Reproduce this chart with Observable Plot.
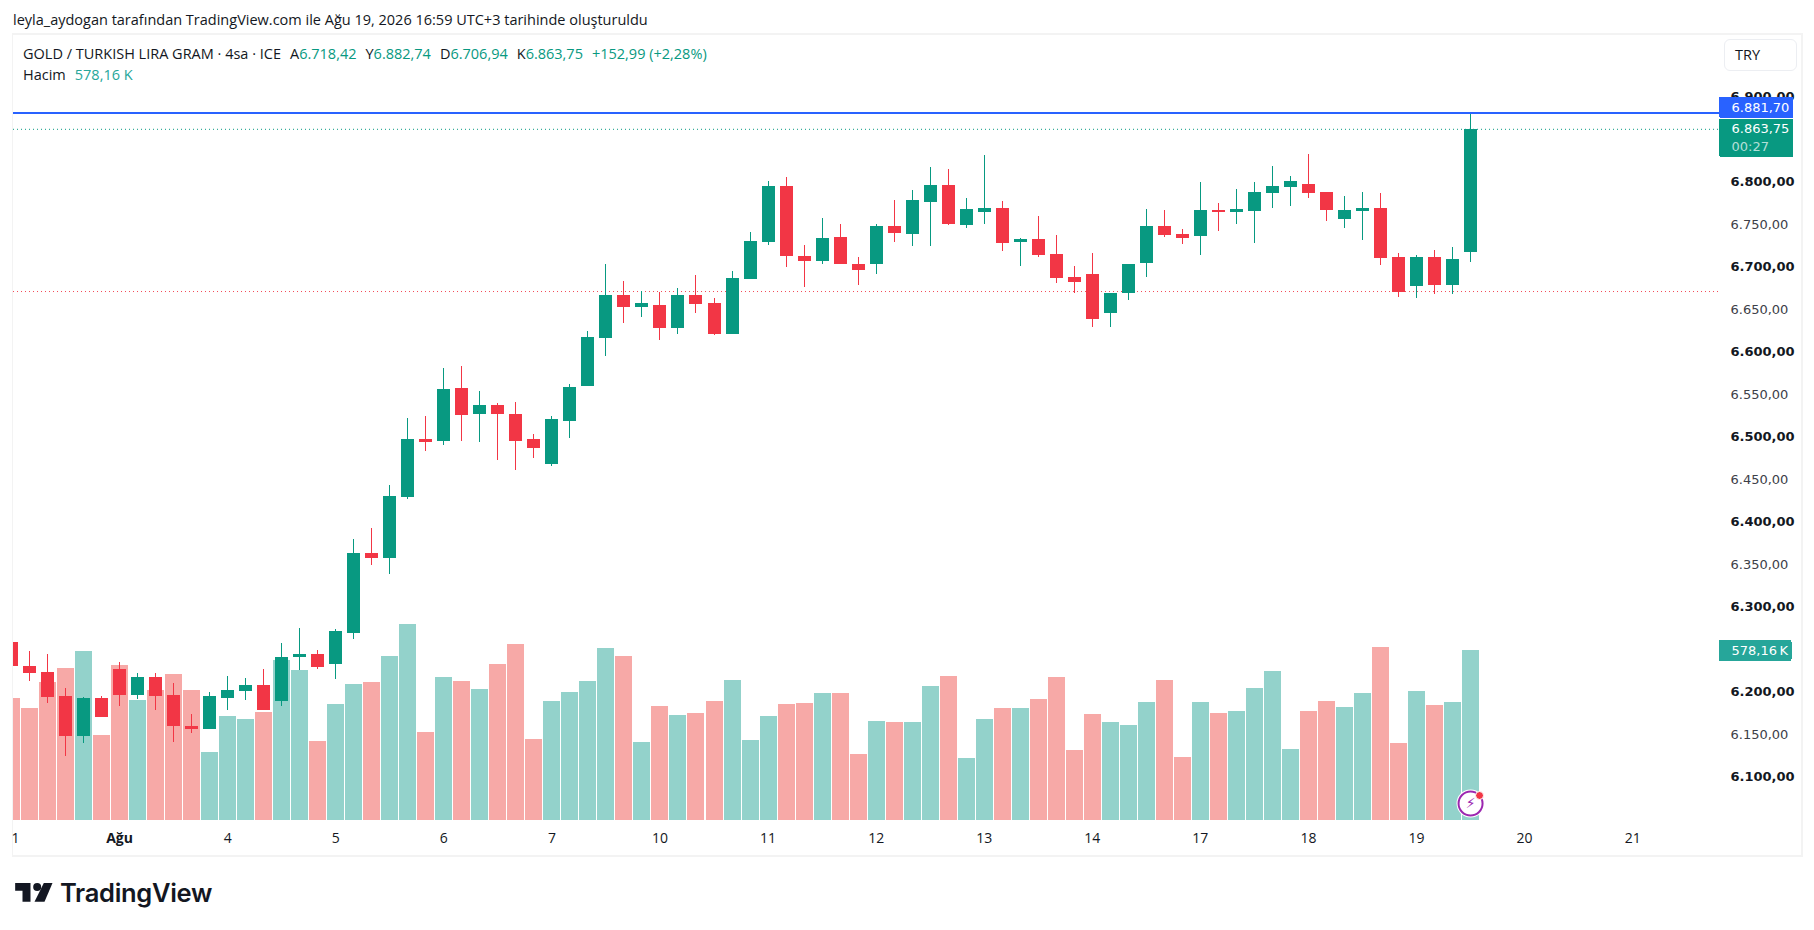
<!DOCTYPE html>
<html lang="tr">
<head>
<meta charset="utf-8">
<title>GOLD / TURKISH LIRA GRAM</title>
<script src="https://cdn.jsdelivr.net/npm/d3@7"></script>
<script src="https://cdn.jsdelivr.net/npm/@observablehq/plot@0.6"></script>
<style>
  html,body{margin:0;padding:0;background:#fff;width:1814px;height:930px;overflow:hidden}
  body{position:relative;font-family:"Open Sans",Roboto,sans-serif;color:#131722}
  #credit{position:absolute;left:13px;top:11px;font-size:14.5px;line-height:18px;white-space:nowrap;color:#131722}
  #panel{position:absolute;left:12px;top:33px;width:1788px;height:820px;border:2px solid #f3f3f3;border-left-width:1px}
  #chart{position:absolute;left:0;top:35px}
  #chart svg{display:block;background:transparent}
  .legend{position:absolute;left:23px;font-size:14.5px;line-height:18px;white-space:nowrap;color:#131722}
  .legend b{font-weight:400;color:#089981}
  .legend span{margin-left:9px}
  #try{position:absolute;left:1724px;top:39px;width:71px;height:30px;border:1px solid #eceef2;border-radius:6px;font-size:14.5px;line-height:30px;text-indent:10px;background:#fff}
  #brand{position:absolute;left:15px;top:874px;height:36px;display:flex;align-items:center}
  #brand svg{display:block;margin-right:7px}
  #brand span{font-family:Inter,sans-serif;font-weight:600;font-size:25.5px;letter-spacing:-.3px;color:#131722}
</style>
</head>
<body>
<div id="credit">leyla_aydogan tarafından TradingView.com ile Ağu 19, 2026 16:59 UTC+3 tarihinde oluşturuldu</div>
<div id="panel"></div>
<div id="chart"></div>
<div class="legend" style="top:45px">GOLD / TURKISH LIRA GRAM · 4sa · ICE<span>A<b>6.718,42</b></span><span>Y<b>6.882,74</b></span><span>D<b>6.706,94</b></span><span>K<b>6.863,75</b></span><span><b>+152,99 (+2,28%)</b></span></div>
<div class="legend" style="top:66px">Hacim<span><b style="color:#26a69a">578,16 K</b></span></div>
<div id="try">TRY</div>
<div id="brand">
  <svg width="38" height="19" viewBox="46 787 113 57" aria-hidden="true"><path fill="#131722" d="M46 787H92V843H68V810H46Z"/><circle fill="#131722" cx="112" cy="799" r="12"/><path fill="#131722" d="M132 787H158L134 843H104Z"/></svg>
  <span>TradingView</span>
</div>
<script>
const open = [6260,6231.8,6224.7,6196.5,6149.4,6194.1,6228.2,6197.6,6218.8,6197.6,6161.2,6157.6,6194.1,6202.4,6209.4,6190.6,6242.3,6245.9,6234.1,6270.6,6364.7,6358.8,6430.6,6498.8,6496.5,6558.8,6528.2,6538.8,6528.2,6498.8,6469.4,6520,6561.2,6617.6,6668.2,6654.1,6656.5,6629.4,6668.2,6658.8,6622.4,6687,6730.6,6796.5,6714.1,6708.2,6736.5,6704.7,6704.7,6749.4,6740,6777.6,6797.6,6750.6,6765.9,6770.6,6730.6,6734.1,6716.5,6689.4,6692.9,6647,6670.6,6705.9,6749.4,6740,6737.6,6768.2,6765.9,6767,6788.2,6795.3,6798.8,6789.4,6757.6,6767,6770.6,6713,6678.8,6713,6680,6718.42];
const high = [6262,6249.4,6245.9,6205.9,6195.3,6196.5,6236.5,6223.5,6223.5,6211.8,6175.3,6201.2,6220,6217.6,6228.2,6258.8,6276.5,6250.6,6275.3,6381.2,6394.1,6444.7,6523.5,6525.9,6582.4,6584.7,6555.3,6541.2,6542.4,6504.7,6525.9,6563.5,6625.9,6704.7,6684.7,6672.9,6671.8,6676.5,6691.8,6664.7,6696.5,6742.4,6802.4,6807.1,6727,6758.8,6751.8,6713,6751.8,6780,6791.8,6818.8,6816.5,6782.4,6832.9,6778.8,6735.3,6761.2,6738.8,6702.4,6717.6,6670.6,6704.7,6769.4,6768.2,6745.9,6801.2,6776.5,6793,6801.2,6820,6808.2,6834.1,6789.4,6784.7,6789.4,6788.2,6717.6,6715.3,6721.2,6724.7,6882.74];
const low = [6229,6214.1,6188.2,6125.9,6141.2,6171.8,6184.7,6192.9,6180,6142.4,6152.9,6157.6,6180,6191.8,6180,6184.7,6227,6228.2,6216.5,6263.5,6350.6,6340,6428.2,6484.7,6491.8,6496.5,6495.3,6474.1,6462.4,6476.5,6467.1,6500,6561.2,6596.5,6635.3,6642.4,6615.3,6622.4,6647,6621.2,6622.4,6687,6727,6701.2,6677.6,6704.7,6704.7,6680,6692.9,6730.6,6725.9,6725.9,6750.6,6747,6751.8,6720,6702.4,6713,6682.4,6670.6,6630.6,6630.6,6662.4,6689.4,6736.5,6728.2,6715.3,6743.5,6751.8,6729.4,6770.6,6773,6782.4,6755.3,6747,6733,6703.5,6665.9,6664.7,6669.4,6669.4,6706.94];
const close = [6231.8,6223.5,6195.3,6149.4,6194.1,6171.8,6197.6,6218.8,6196.5,6161.2,6157.6,6196.5,6203.5,6209.4,6180,6242.3,6245.9,6230.6,6273,6364.7,6358.8,6431.8,6498.8,6495.3,6557.6,6527.1,6538.8,6528.2,6496.5,6488.2,6522.4,6560,6618.8,6668.2,6654.1,6658.8,6629.4,6668.2,6657.6,6622.4,6688.2,6731.8,6796.5,6714.1,6708.2,6735.3,6704.7,6697.6,6749.4,6741.2,6780,6797.6,6751.8,6769.4,6770.6,6729.4,6734.1,6715.3,6688.2,6683.5,6640,6670.6,6704.7,6749.4,6738.8,6735.3,6768.2,6765.9,6769.4,6789.4,6796.5,6802.4,6788.2,6768.2,6768.2,6770.6,6711.8,6671.8,6713,6680,6710.6,6863.75];
const volumeK = [415,381,469,517,575,289,527,408,442,497,442,231,354,344,367,544,510,269,395,463,469,558,667,299,486,473,446,531,599,275,405,435,473,585,558,265,388,357,364,405,476,272,354,395,398,432,432,224,337,333,333,456,490,211,344,381,381,412,486,238,361,333,323,401,476,214,401,364,371,449,507,241,371,405,384,432,588,262,439,391,401,578.16];

const boldPrices = [6100,6200,6300,6400,6500,6600,6700,6800,6900];
const plainPrices = [6150,6350,6450,6550,6650,6750];
const dayTickAt = [0.22,12,18,24,30,36,42,48,54,60,66,72,78,84,90];
const dayTickText = ["1","4","5","6","7","10","11","12","13","14","17","18","19","20","21"];
const monthTickAt = [6];
const monthTickText = ["Ağu"];

const bidLine = 6881.70, lastLine = 6863.75, lowLine = 6672.9;

const colours = {up:"#089981", down:"#f23645", upVol:"#93d2cb", downVol:"#f7a9a7", blue:"#2962ff", volTag:"#26a69a", bolt:"#9c27b0"};
const volBase = 6050.6, volUnit = 200 / 578.16;
const candles = open.map((o, i) => ({i, o, h: high[i], l: low[i], c: close[i], vTop: volBase + volumeK[i] * volUnit}));
const isUp = d => d.c >= d.o;

const priceFmt = d3.formatLocale({decimal:",", thousands:".", grouping:[3], currency:["",""]}).format(",.2f");
const dayLabel = new Map(dayTickAt.map((d, k) => [d, dayTickText[k]]));
const monthLabel = new Map(monthTickAt.map((d, k) => [d, monthTickText[k]]));

const tagL = 94.82, tagR = 98.95;
const tags = [
  {y1:6876.5, y2:6901.2, fill:colours.blue, r:tagR},
  {y1:6830.6, y2:6875.3, fill:colours.up, r:tagR},
  {y1:6237.6, y2:6262.4, fill:colours.volTag, r:98.85}
];
const tagText = [
  {y:6888.8, t:"6.881,70", o:1},
  {y:6864.7, t:"6.863,75", o:1},
  {y:6843.5, t:"00:27", o:.7},
  {y:6250.6, t:"578,16\u2009K", o:1}
];
const last = [{i:81, y:6070.6}];
const tickFont = {fontFamily:"'DejaVu Sans',sans-serif", fontSize:13};

const plot = Plot.plot({
  width: 1814, height: 818,
  marginTop: 0, marginBottom: 33, marginLeft: 13, marginRight: 95,
  style: {background:"transparent", overflow:"visible"},
  x: {type:"linear", domain:[0.111, 94.82], axis:null},
  y: {type:"linear", domain:[volBase, 6974.1], axis:null},
  marks: [
    Plot.ruleX(candles.filter(isUp), {x:"i", y1:volBase, y2:"vTop", stroke:colours.upVol, strokeWidth:17, clip:true, shapeRendering:"crispEdges"}),
    Plot.ruleX(candles.filter(d => !isUp(d)), {x:"i", y1:volBase, y2:"vTop", stroke:colours.downVol, strokeWidth:17, clip:true, shapeRendering:"crispEdges"}),
    Plot.ruleY([lowLine], {stroke:colours.down, strokeWidth:1, strokeDasharray:"1 3", strokeOpacity:.9}),
    Plot.ruleY([lastLine], {stroke:colours.up, strokeWidth:1, strokeDasharray:"1 3"}),
    Plot.ruleX(candles, {x:"i", y1:"l", y2:"h", stroke:d => isUp(d) ? colours.up : colours.down, strokeWidth:1, clip:true, shapeRendering:"crispEdges"}),
    Plot.ruleX(candles, {x:"i", y1:"o", y2:"c", stroke:d => isUp(d) ? colours.up : colours.down, strokeWidth:13, clip:true, shapeRendering:"crispEdges"}),
    Plot.ruleY([bidLine], {stroke:colours.blue, strokeWidth:2, dy:-1}),
    Plot.axisY({anchor:"right", ticks:plainPrices, tickFormat:priceFmt, tickSize:0, tickPadding:11, fill:"#3d4048", label:null, dy:-1.5, ...tickFont}),
    Plot.axisY({anchor:"right", ticks:boldPrices, tickFormat:priceFmt, tickSize:0, tickPadding:11, fill:"#131722", fontWeight:"bold", label:null, dy:-1.5, ...tickFont}),
    Plot.axisX({anchor:"bottom", ticks:dayTickAt, tickFormat:d => dayLabel.get(d), tickSize:0, tickPadding:13, fill:"#131722", label:null, fontFamily:"'Open Sans',sans-serif", fontSize:14}),
    Plot.axisX({anchor:"bottom", ticks:monthTickAt, tickFormat:d => monthLabel.get(d), tickSize:0, tickPadding:13, fill:"#131722", fontWeight:"bold", label:null, fontFamily:"'Open Sans',sans-serif", fontSize:14}),
    Plot.rect(tags, {x1:tagL, x2:"r", y1:"y1", y2:"y2", fill:"fill", r:2, shapeRendering:"crispEdges"}),
    Plot.text(tagText, {frameAnchor:"right", y:"y", text:"t", dx:12, textAnchor:"start", fill:"white", fillOpacity:"o", ...tickFont}),
    Plot.dot(last, {x:"i", y:"y", r:14, fill:"white"}),
    Plot.dot(last, {x:"i", y:"y", r:12, fill:"white", stroke:colours.bolt, strokeWidth:2}),
    Plot.text(last, {x:"i", y:"y", text:() => "\u26A1", fill:colours.bolt, fontSize:14, fontFamily:"'DejaVu Sans',sans-serif"}),
    Plot.dot(last, {x:"i", y:"y", r:4, dx:9, dy:-8, fill:colours.down, stroke:"white", strokeWidth:1})
  ]
});
document.getElementById("chart").append(plot);
</script>
</body>
</html>
